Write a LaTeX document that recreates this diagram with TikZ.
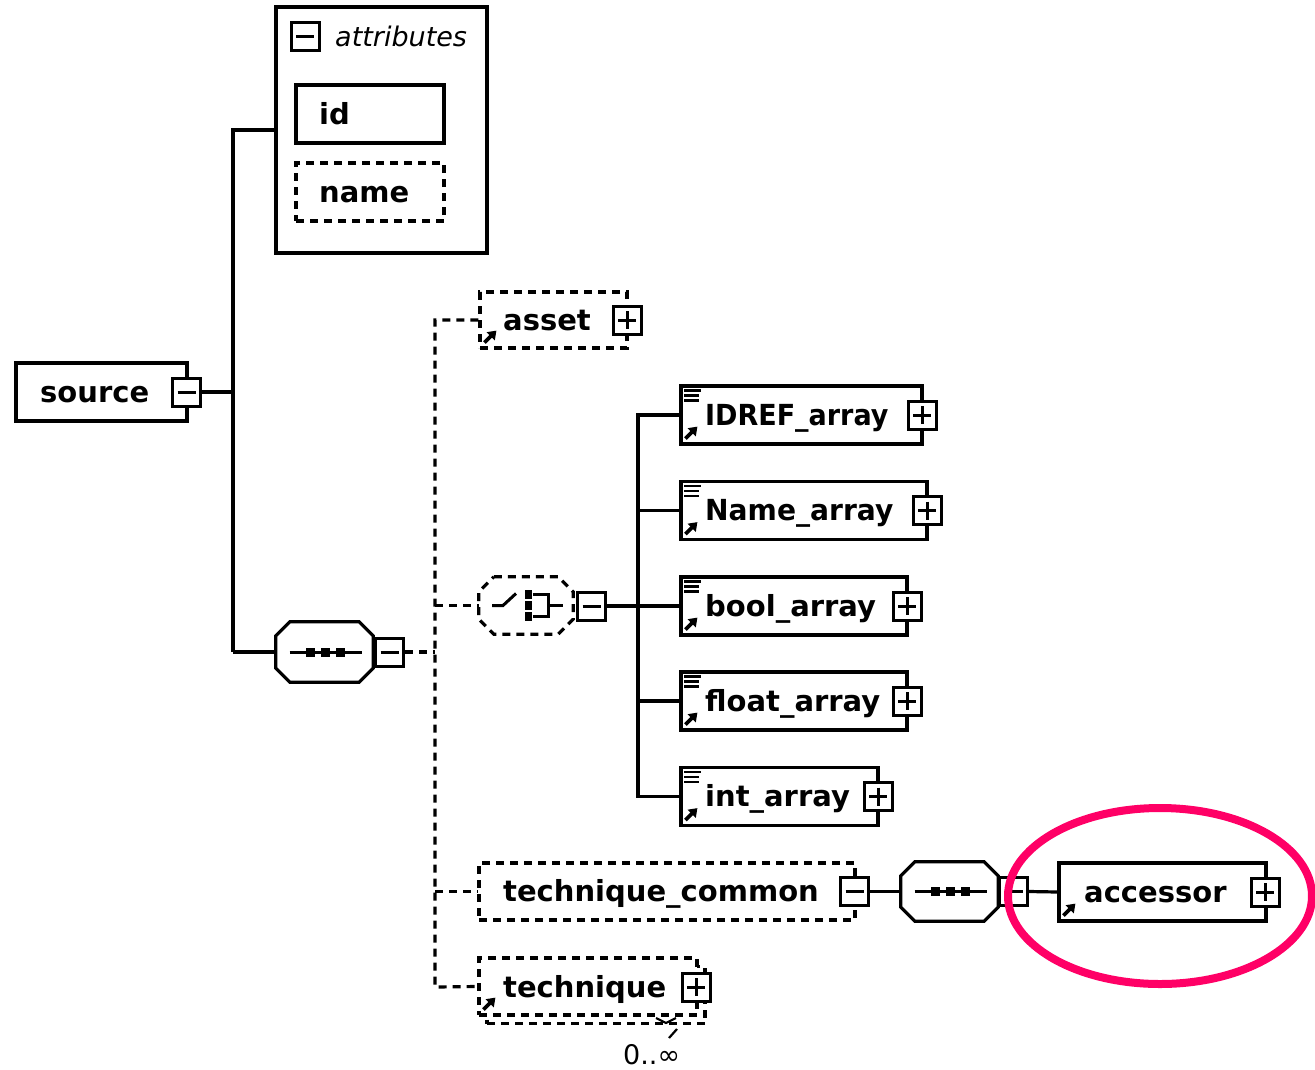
\documentclass[tikz,border=0pt]{standalone}
\usepackage{fontspec}
\setmainfont{DejaVu Sans}
\usetikzlibrary{arrows.meta}
\definecolor{hl}{RGB}{255,0,102}
\newcommand\lbfont{\bfseries\fontsize{29}{34}\selectfont}
\begin{document}
\begin{tikzpicture}[x=1pt,y=-1pt,
  box/.style={draw, line width=3.2pt, fill=white, inner sep=0pt, minimum height=58pt},
  obox/.style={box, dash pattern=on 8pt off 6pt},
  frame/.style={inner sep=0pt},
  btn/.style={draw, line width=3pt, fill=white, inner sep=0pt, minimum size=28pt},
  minusbtn/.style={btn, path picture={\draw[line width=3pt] ([xshift=5pt]path picture bounding box.west) -- ([xshift=-5pt]path picture bounding box.east);}},
  plusbtn/.style={btn, path picture={\draw[line width=3pt] ([xshift=5pt]path picture bounding box.west) -- ([xshift=-5pt]path picture bounding box.east); \draw[line width=3pt] ([yshift=-5pt]path picture bounding box.north) -- ([yshift=5pt]path picture bounding box.south);}},
  link/.style={line width=3.2pt},
  olink/.style={link, dash pattern=on 8pt off 6pt},
  lbl/.style={font=\lbfont, anchor=base west, inner sep=0pt},
  refarrow/.pic={\draw[line width=3.6pt,-{Triangle[length=8pt,width=11pt]}] (0,0) -- (12,-12);},
  simpleicon/.pic={\draw[line width=2.6pt] (0,0) -- (17,0) (0,5) -- (15,5) (0,10) -- (15,10);},
  seqsym/.pic={\draw[line width=3pt] (-35,0) -- (37,0);
    \foreach \q in {-14,1,16} {\fill (\q-4.5,-4.5) rectangle (\q+4.5,4.5);}},
  choicesym/.pic={\draw[line width=3pt] (-34,0) -- (-23,0) -- (-10,-12);
    \foreach \q in {-11,0,11} {\fill (-1,\q-4.5) rectangle (6,\q+4.5);}
    \draw[line width=3pt] (7,-11) -- (22,-11) -- (22,11) -- (7,11) (22,0) -- (37,0);}
]
\useasboundingbox (0,0) rectangle (1315,1069);

% ---- source ----
\node[box, minimum width=171pt] (source) at (101.5,392) {};
\node[lbl] (sourcet) at (40,402) {source};
\node[minusbtn] (sourceb) at (186.5,392) {};
\coordinate (j1) at (233,392);
\coordinate (ja) at (233,130);
\coordinate (jb) at (233,652);

% ---- attributes ----
\node[box, minimum width=211pt, minimum height=246pt] (attrs) at (381.5,130) {};
\node[minusbtn] (attrb) at (305,36.5) {};
\node[font=\itshape\fontsize{27}{30}\selectfont, anchor=base west, inner sep=0pt] (attrt) at (335,46) {attributes};
\node[box, minimum width=148pt] (id) at (370,114) {};
\node[lbl] (idt) at (319,124) {id};
\node[obox, minimum width=148pt] (name) at (370,192) {};
\node[lbl] (namet) at (319,202) {name};

\draw[link] (sourceb.east) -- (j1);
\draw[link] (attrs.west) -- (ja) -- (jb);

% ---- sequence 1 ----
\node[frame, minimum width=97pt, minimum height=60pt] (seq1) at (324.5,652) {};
\draw[link] ([xshift=14pt]seq1.north west) -- ([xshift=-14pt]seq1.north east) -- ([yshift=-14pt]seq1.north east) -- ([yshift=14pt]seq1.south east) -- ([xshift=-14pt]seq1.south east) -- ([xshift=14pt]seq1.south west) -- ([yshift=14pt]seq1.south west) -- ([yshift=-14pt]seq1.north west) -- cycle;
\pic at (seq1.center) {seqsym};
\node[minusbtn] (seq1b) at (389.5,652) {};
\draw[link] (jb) -- (seq1.west);

\coordinate (v0) at (435,652);
\coordinate (va) at (435,320);
\coordinate (vc) at (435,605.5);
\coordinate (vtc) at (435,891.5);
\coordinate (vt) at (435,987);

% ---- asset ----
\node[obox, minimum width=147pt, minimum height=56pt] (asset) at (553.5,320) {};
\node[lbl] (assett) at (503,330) {asset};
\pic at ([shift={(6,-7)}]asset.south west) {refarrow};
\node[plusbtn] (assetb) at (627,320) {};

% ---- choice ----
\node[frame, minimum width=94pt, minimum height=57pt] (choice) at (526,605.5) {};
\draw[link, dash pattern=on 8pt off 6pt] ([xshift=15pt]choice.north west) -- ([xshift=-15pt]choice.north east) -- ([yshift=-15pt]choice.north east) -- ([yshift=15pt]choice.south east) -- ([xshift=-15pt]choice.south east) -- ([xshift=15pt]choice.south west) -- ([yshift=15pt]choice.south west) -- ([yshift=-15pt]choice.north west) -- cycle;
\pic at (choice.center) {choicesym};
\node[minusbtn] (choiceb) at (591.5,606) {};
\coordinate (h0) at (638,606);
\coordinate (h1) at (638,415);
\coordinate (h5) at (638,796.5);

% ---- arrays ----
\node[box, minimum width=241pt] (a1) at (801.5,415) {};
\node[box, minimum width=246pt] (a2) at (804,510.5) {};
\node[box, minimum width=226pt] (a3) at (794,606) {};
\node[box, minimum width=226pt] (a4) at (794,701) {};
\node[box, minimum width=197pt] (a5) at (779.5,796.5) {};
\node[lbl, xscale=0.93] (a1t) at (705,425) {IDREF\_array};
\node[lbl, xscale=0.97] (a2t) at (705,520.5) {Name\_array};
\node[lbl] (a3t) at (705,616) {bool\_array};
\node[lbl] (a4t) at (705,711) {float\_array};
\node[lbl] (a5t) at (705,806.5) {int\_array};
\foreach \n in {a1,a2,a3,a4,a5} {
  \pic at ([shift={(6,-7)}]\n.south west) {refarrow};
  \pic at ([shift={(5,6)}]\n.north west) {simpleicon};
}
\node[plusbtn] (a1b) at (922,415) {};
\node[plusbtn] (a2b) at (927,510.5) {};
\node[plusbtn] (a3b) at (907,606) {};
\node[plusbtn] (a4b) at (907,701) {};
\node[plusbtn] (a5b) at (878,796.5) {};

\draw[link] (choiceb.east) -- (h0);
\draw[link] (a1.west) -- (h1) -- (h5) -- (a5.west);
\draw[link] (h0 |- a2.west) -- (a2.west);
\draw[link] (h0) -- (a3.west);
\draw[link] (h0 |- a4.west) -- (a4.west);

% ---- technique_common ----
\node[obox, minimum width=376pt, minimum height=57pt] (tc) at (667,891.5) {};
\node[lbl] (tct) at (503,901.5) {technique\_common};
\node[minusbtn] (tcb) at (854.5,891.5) {};
\node[frame, minimum width=97pt, minimum height=59pt] (seq2) at (949.5,891.5) {};
\draw[link] ([xshift=14pt]seq2.north west) -- ([xshift=-14pt]seq2.north east) -- ([yshift=-14pt]seq2.north east) -- ([yshift=14pt]seq2.south east) -- ([xshift=-14pt]seq2.south east) -- ([xshift=14pt]seq2.south west) -- ([yshift=14pt]seq2.south west) -- ([yshift=-14pt]seq2.north west) -- cycle;
\pic at (seq2.center) {seqsym};
\node[minusbtn] (seq2b) at (1013.5,891.5) {};
\node[box, minimum width=207pt] (acc) at (1162.5,892) {};
\node[lbl] (acct) at (1084,902) {accessor};
\pic at ([shift={(6,-7)}]acc.south west) {refarrow};
\node[plusbtn] (accb) at (1265,892) {};
\draw[link] (tcb.east) -- (seq2.west);
\draw[link] (seq2b.east) -- (acc.west);

% ---- technique (multiple) ----
\node[obox, minimum width=218pt, minimum height=57pt] (techback) at (596,995) {};
\node[obox, minimum width=218pt, minimum height=57pt] (tech) at (588,986.5) {};
\node[lbl] (techt) at (503,997) {technique};
\pic at ([shift={(6,-7)}]tech.south west) {refarrow};
\node[plusbtn] (techb) at (696,987) {};
\node[font=\fontsize{27}{30}\selectfont, anchor=base west, inner sep=0pt] (occ) at (623,1064) {0..∞};
\draw[line width=2.2pt] (656,1018) -- (666,1023) -- (676,1018);
\draw[line width=2.2pt] (677,1029) -- (669,1038);

% ---- dashed spine ----
\draw[olink] (seq1b.east) -- (v0);
\draw[olink] (asset.west) -- (va) -- (vt) -- (tech.west);
\draw[olink] (vc) -- (choice.west);
\draw[olink] (vtc) -- (tc.west);

% ---- highlight ----
\draw[hl, line width=8pt] (1160,896) ellipse [x radius=152, y radius=88];
\end{tikzpicture}
\end{document}
